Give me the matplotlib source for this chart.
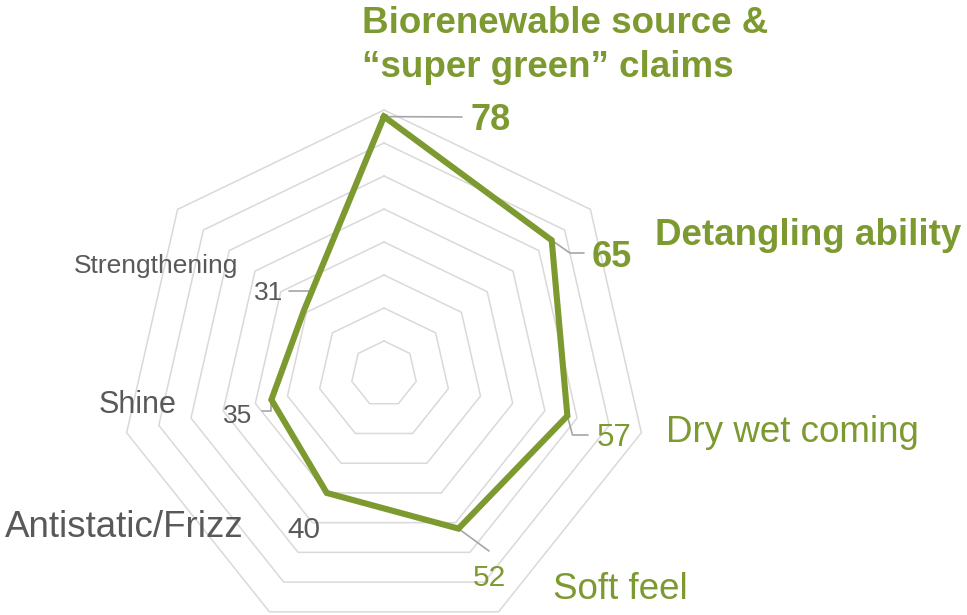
import numpy as np
import matplotlib.pyplot as plt

plt.rcParams['font.family'] = ['Liberation Sans', 'DejaVu Sans']

# chart data
categories = ['Biorenewable source &\n\u201csuper green\u201d claims', 'Detangling ability',
              'Dry wet coming', 'Soft feel', 'Antistatic/Frizz', 'Shine', 'Strengthening']
values = [78, 65, 57, 52, 40, 35, 31]
ring_levels = [10, 20, 30, 40, 50, 60, 70, 80]

GREEN = '#7D9A31'
GREY = '#595959'
GRID = '#D9D9D9'
LEADER = '#A6A6A6'

W, H = 967, 615

# label styling / placement (pixels from top-left, left edge + baseline)
label_pos = [(362, 33), (655, 245), (666, 442), (553, 599), (5, 537), (99, 413), (74, 273)]
label_size = [26.5, 26.5, 26.5, 26.5, 26.5, 22, 19]
label_bold = [True, True, False, False, False, False, False]
label_color = [GREEN, GREEN, GREEN, GREEN, GREY, GREY, GREY]
label_linestep = 44

value_pos = [(470, 130), (592, 267), (597, 446), (473, 586), (287, 538), (223, 423), (254, 300)]
value_size = [26, 26, 22.5, 21.5, 21.5, 19, 19]
# leader lines: end point (pixels) and angle of the segment touching the point
leader_end = [(462, 117), (584, 253), (588, 435), (489, 551), None, (262, 411), (289, 291)]
leader_angB = [None, -35, -75, None, None, 90, 73]

fig = plt.figure(figsize=(W / 100, H / 100), dpi=100)
cx, cy, R = 384, 374, 264
ax = fig.add_axes([(cx - R) / W, (H - cy - R) / H, 2 * R / W, 2 * R / H], projection='polar')
ax.set_theta_offset(np.pi / 2)
ax.set_theta_direction(-1)
ax.set_ylim(0, 80)
ax.set_axis_off()

n = len(categories)
theta = np.linspace(0, 2 * np.pi, n, endpoint=False)
theta_c = np.append(theta, theta[0])

for lvl in ring_levels:
    ax.plot(theta_c, [lvl] * (n + 1), color=GRID, lw=1.1, clip_on=False, zorder=1)

vals_c = np.append(values, values[0])
ax.plot(theta_c, vals_c, color=GREEN, lw=4.4, solid_joinstyle='miter', clip_on=False, zorder=3)

for i in range(n):
    # category label
    for k, line in enumerate(categories[i].split('\n')):
        x, y = label_pos[i]
        fig.text(x / W, 1 - (y + k * label_linestep) / H, line, ha='left', va='baseline',
                 fontsize=label_size[i], color=label_color[i],
                 fontweight='bold' if label_bold[i] else 'normal')
    # value label
    x, y = value_pos[i]
    fig.text(x / W, 1 - y / H, str(values[i]), ha='left', va='baseline',
             fontsize=value_size[i], color=label_color[i],
             fontweight='bold' if label_bold[i] else 'normal')
    # leader line
    if leader_end[i] is not None:
        ex, ey = leader_end[i]
        if leader_angB[i] is None:
            cs = 'arc3,rad=0'
        else:
            cs = 'angle,angleA=0,angleB=%d,rad=0' % leader_angB[i]
        ax.annotate('', xy=(theta[i], values[i]), xycoords='data',
                    xytext=(ex, H - ey), textcoords='figure pixels',
                    arrowprops=dict(arrowstyle='-', color=LEADER, lw=1.2, shrinkA=0, shrinkB=0,
                                    connectionstyle=cs),
                    annotation_clip=False, zorder=2)

fig.savefig('out.png', dpi=100)
